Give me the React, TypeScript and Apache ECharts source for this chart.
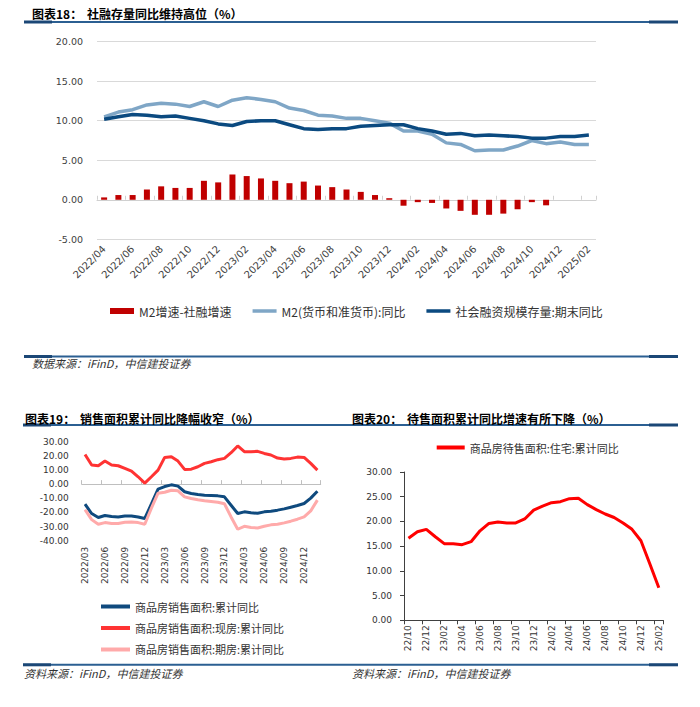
import React, { useEffect, useRef } from 'react';
import * as echarts from 'echarts';

// ---------- Chart 18 ----------
const months1 = [
  '2022/04', '2022/05', '2022/06', '2022/07', '2022/08', '2022/09', '2022/10', '2022/11', '2022/12',
  '2023/01', '2023/02', '2023/03', '2023/04', '2023/05', '2023/06', '2023/07', '2023/08', '2023/09', '2023/10', '2023/11', '2023/12',
  '2024/01', '2024/02', '2024/03', '2024/04', '2024/05', '2024/06', '2024/07', '2024/08', '2024/09', '2024/10', '2024/11', '2024/12',
  '2025/01', '2025/02',
];
const spreadBar = [
  0.3, 0.6, 0.6, 1.3, 1.7, 1.5, 1.5, 2.4, 2.2,
  3.2, 3.0, 2.7, 2.4, 2.1, 2.3, 1.8, 1.6, 1.3, 1.0, 0.6, 0.2,
  -0.75, -0.3, -0.4, -1.1, -1.4, -1.9, -1.9, -1.75, -1.2, -0.3, -0.7, null,
  null, null,
];
const m2Yoy = [
  10.5, 11.1, 11.4, 12.0, 12.2, 12.1, 11.8, 12.4, 11.8,
  12.6, 12.9, 12.7, 12.4, 11.6, 11.3, 10.7, 10.6, 10.3, 10.3, 10.0, 9.7,
  8.7, 8.7, 8.3, 7.2, 7.0, 6.2, 6.3, 6.3, 6.8, 7.5, 7.1, 7.3,
  7.0, 7.0,
];
const tsfYoy = [
  10.2, 10.5, 10.8, 10.7, 10.5, 10.6, 10.3, 10.0, 9.6,
  9.4, 9.9, 10.0, 10.0, 9.5, 9.0, 8.9, 9.0, 9.0, 9.3, 9.4, 9.5,
  9.5, 9.0, 8.7, 8.3, 8.4, 8.1, 8.2, 8.1, 8.0, 7.8, 7.8, 8.0,
  8.0, 8.2,
];
const names1 = ['M2增速-社融增速', 'M2(货币和准货币):同比', '社会融资规模存量:期末同比'];

// ---------- Chart 19 ----------
const months2 = [
  '2022/03', '2022/04', '2022/05', '2022/06', '2022/07', '2022/08', '2022/09', '2022/10', '2022/11', '2022/12',
  '2023/01', '2023/02', '2023/03', '2023/04', '2023/05', '2023/06', '2023/07', '2023/08', '2023/09', '2023/10', '2023/11', '2023/12',
  '2024/01', '2024/02', '2024/03', '2024/04', '2024/05', '2024/06', '2024/07', '2024/08', '2024/09', '2024/10', '2024/11', '2024/12',
  '2025/01', '2025/02',
];
const salesTotal = [
  -14.2, -20.8, -23.6, -22.2, -22.9, -23.2, -22.5, -22.5, -23.2, -24.3,
  -14.0, -3.5, -1.7, -0.5, -1.4, -5.4, -6.6, -7.3, -7.8, -8.0, -8.3, -9.0,
  -14.9, -20.8, -19.6, -20.3, -20.6, -19.6, -19.1, -18.4, -17.5, -16.3, -15.1, -13.7,
  -9.9, -5.0,
];
const salesExisting = [
  21.0, 13.5, 13.0, 16.3, 13.5, 13.0, 11.1, 9.2, 5.2, 0.7,
  5.2, 9.9, 18.9, 19.4, 16.3, 10.4, 10.6, 12.3, 14.7, 15.8, 17.3, 18.2,
  22.2, 27.0, 22.9, 22.9, 23.2, 21.7, 20.6, 18.4, 17.7, 18.2, 19.1, 18.9,
  14.7, 9.9,
];
const salesPresale = [
  -18.0, -25.1, -28.4, -27.2, -27.9, -27.9, -27.0, -26.7, -27.2, -28.4,
  -17.0, -6.4, -5.7, -4.3, -4.7, -9.0, -10.2, -11.1, -11.8, -12.3, -12.8, -13.9,
  -23.2, -31.9, -29.8, -30.7, -31.0, -29.8, -28.8, -28.4, -27.4, -26.2, -24.8, -23.2,
  -18.9, -11.3,
];
const names2 = ['商品房销售面积:累计同比', '商品房销售面积:现房:累计同比', '商品房销售面积:期房:累计同比'];

// ---------- Chart 20 ----------
const months3 = [
  '22/10', '22/11', '22/12',
  '23/01', '23/02', '23/03', '23/04', '23/05', '23/06', '23/07', '23/08', '23/09', '23/10', '23/11', '23/12',
  '24/01', '24/02', '24/03', '24/04', '24/05', '24/06', '24/07', '24/08', '24/09', '24/10', '24/11', '24/12',
  '25/01', '25/02',
];
const unsoldYoy = [
  16.6, 17.9, 18.4,
  16.9, 15.5, 15.5, 15.3, 15.9, 18.1, 19.6, 19.9, 19.7, 19.7, 20.5, 22.3,
  23.1, 23.8, 24.0, 24.6, 24.7, 23.4, 22.4, 21.5, 20.8, 19.7, 18.4, 16.1,
  11.4, 6.6,
];
const name3 = '商品房待售面积:住宅:累计同比';

const CJK = '"Noto Sans CJK SC", sans-serif';
const NUM = '"DejaVu Sans", sans-serif';
// thick line legend icon with transparent padding top & bottom
const LINE_ICON = 'path://M0,0L0.01,0M0,6L0.01,6M0,1.2L24,1.2L24,4.8L0,4.8Z';

function rule(x1: number, x2: number, y: number) {
  return [
    { type: 'rect', shape: { x: x1, y: y, width: x2 - x1, height: 2 }, style: { fill: '#2b5f92' } },
    { type: 'rect', shape: { x: x1, y: y - 0.5, width: 28, height: 3 }, style: { fill: '#1b4776' } },
    { type: 'rect', shape: { x: x2 - 29, y: y - 0.5, width: 29, height: 3 }, style: { fill: '#1b4776' } },
  ];
}

function txt(x: number, y: number, text: string, font: string, fill = '#000') {
  return { type: 'text', x, y, style: { text, font, fill, align: 'left', verticalAlign: 'middle' } };
}

export default function App() {
  const ref = useRef<HTMLDivElement>(null);
  useEffect(() => {
    document.body.style.margin = '0';
    const chart = echarts.init(ref.current!, null, { renderer: 'svg' });
    const fmt2 = (v: number) => v.toFixed(2);
    const titleFont = `bold 12px ${CJK}`;
    const srcFont = `italic 11px ${CJK}`;
    const option: any = {
      animation: false,
      backgroundColor: '#ffffff',
      textStyle: { fontFamily: CJK },
      grid: [
        { left: 97, top: 41.7, width: 499, height: 197.6 },
        { left: 81.7, top: 441.7, width: 239, height: 99 },
        { left: 404, top: 472, width: 259.3, height: 148.3 },
      ],
      legend: [
        {
          data: [
            { name: names1[0], icon: 'rect' },
            { name: names1[1], icon: LINE_ICON },
            { name: names1[2], icon: LINE_ICON },
          ],
          left: 105, top: 300, itemWidth: 24, itemHeight: 6, itemGap: 21, selectedMode: false,
          textStyle: { fontSize: 12, color: '#333', fontFamily: CJK },
        },
        {
          data: names2.map((n) => ({ name: n, icon: 'rect' })),
          orient: 'vertical', left: 96, top: 596, itemWidth: 29, itemHeight: 4, itemGap: 10.5,
          selectedMode: false, textStyle: { fontSize: 11, color: '#333', fontFamily: CJK },
        },
        {
          data: [{ name: name3, icon: 'rect' }], left: 431.7, top: 437, itemWidth: 28, itemHeight: 4,
          selectedMode: false, textStyle: { fontSize: 11, color: '#333', fontFamily: CJK },
        },
      ],
      xAxis: [
        {
          gridIndex: 0, type: 'category', data: months1, boundaryGap: true,
          axisLine: { show: false, onZero: false }, axisTick: { show: false },
          axisLabel: { rotate: 45, interval: 1, margin: 8, fontSize: 10, color: '#404040', fontFamily: NUM },
        },
        {
          gridIndex: 0, type: 'category', data: months1, boundaryGap: true,
          axisLine: { show: true, onZero: true, lineStyle: { color: '#d0d0d0', width: 1 } },
          axisTick: { show: true, interval: 1, length: 4, lineStyle: { color: '#d0d0d0' } },
          axisLabel: { show: false },
        },
        {
          gridIndex: 1, type: 'category', data: months2, boundaryGap: true,
          axisLine: { show: false, onZero: false }, axisTick: { show: false },
          axisLabel: { rotate: 90, interval: 2, margin: 6, fontSize: 9, color: '#333', fontFamily: NUM },
        },
        {
          gridIndex: 1, type: 'category', data: months2, boundaryGap: true,
          axisLine: { show: true, onZero: true, lineStyle: { color: '#bfbfbf', width: 1 } },
          axisTick: { show: true, interval: 2, length: 4, lineStyle: { color: '#bfbfbf' } },
          axisLabel: { show: false },
        },
        {
          gridIndex: 2, type: 'category', data: months3, boundaryGap: true,
          axisLine: { show: true, lineStyle: { color: '#404040', width: 1 } },
          axisTick: { show: true, interval: 1, length: 4, lineStyle: { color: '#404040' } },
          axisLabel: { rotate: 90, interval: 1, margin: 5, fontSize: 9, color: '#333', fontFamily: NUM },
        },
      ],
      yAxis: [
        {
          gridIndex: 0, type: 'value', min: -5, max: 20, interval: 5,
          axisLine: { show: false }, axisTick: { show: false },
          splitLine: { show: true, lineStyle: { color: '#d9d9d9', width: 1 } },
          axisLabel: { formatter: fmt2, fontSize: 9.5, color: '#404040', margin: 14, fontFamily: NUM },
        },
        {
          gridIndex: 1, type: 'value', min: -40, max: 30, interval: 10,
          axisLine: { show: false }, axisTick: { show: false }, splitLine: { show: false },
          axisLabel: { formatter: fmt2, fontSize: 9, color: '#333', margin: 13, fontFamily: NUM },
        },
        {
          gridIndex: 2, type: 'value', min: 0, max: 30, interval: 5,
          axisLine: { show: true, lineStyle: { color: '#404040', width: 1 } },
          axisTick: { show: true, length: 4, lineStyle: { color: '#404040' } },
          splitLine: { show: false },
          axisLabel: { formatter: fmt2, fontSize: 9, color: '#333', margin: 12, fontFamily: NUM },
        },
      ],
      series: [
        {
          name: names1[0], type: 'bar', xAxisIndex: 0, yAxisIndex: 0, data: spreadBar, barWidth: 6,
          itemStyle: { color: '#c00000' },
        },
        {
          name: names1[1], type: 'line', xAxisIndex: 0, yAxisIndex: 0, data: m2Yoy, symbol: 'none',
          lineStyle: { color: '#7fa6c6', width: 3.5 }, itemStyle: { color: '#7fa6c6' },
        },
        {
          name: names1[2], type: 'line', xAxisIndex: 0, yAxisIndex: 0, data: tsfYoy, symbol: 'none',
          lineStyle: { color: '#0b4a80', width: 3.5 }, itemStyle: { color: '#0b4a80' },
        },
        {
          name: names2[0], type: 'line', xAxisIndex: 2, yAxisIndex: 1, data: salesTotal, symbol: 'none',
          lineStyle: { color: '#0f4a7e', width: 3 }, itemStyle: { color: '#0f4a7e' },
        },
        {
          name: names2[1], type: 'line', xAxisIndex: 2, yAxisIndex: 1, data: salesExisting, symbol: 'none',
          lineStyle: { color: '#ff3333', width: 3 }, itemStyle: { color: '#ff3333' },
        },
        {
          name: names2[2], type: 'line', xAxisIndex: 2, yAxisIndex: 1, data: salesPresale, symbol: 'none',
          lineStyle: { color: '#ffaaaa', width: 3 }, itemStyle: { color: '#ffaaaa' },
        },
        {
          name: name3, type: 'line', xAxisIndex: 4, yAxisIndex: 2, data: unsoldYoy, symbol: 'none',
          lineStyle: { color: '#ff0000', width: 3 }, itemStyle: { color: '#ff0000' },
        },
      ],
      graphic: [
        ...rule(24, 678, 21),
        ...rule(24, 678, 355.5),
        ...rule(23, 678, 424),
        ...rule(23, 678, 663.8),
        txt(32, 13, '图表18：', titleFont),
        txt(87, 13, '社融存量同比维持高位（%）', titleFont),
        txt(25, 418, '图表19：', titleFont),
        txt(80, 418, '销售面积累计同比降幅收窄（%）', titleFont),
        txt(352, 418, '图表20：', titleFont),
        txt(407, 418, '待售面积累计同比增速有所下降（%）', titleFont),
        txt(32, 363, '数据来源：iFinD，中信建投证券', srcFont, '#333'),
        txt(24, 673, '资料来源：iFinD，中信建投证券', srcFont, '#333'),
        txt(352, 673, '资料来源：iFinD，中信建投证券', srcFont, '#333'),
      ],
    };
    chart.setOption(option);
    return () => chart.dispose();
  }, []);
  return <div ref={ref} style={{ width: 700, height: 707 }} />;
}
